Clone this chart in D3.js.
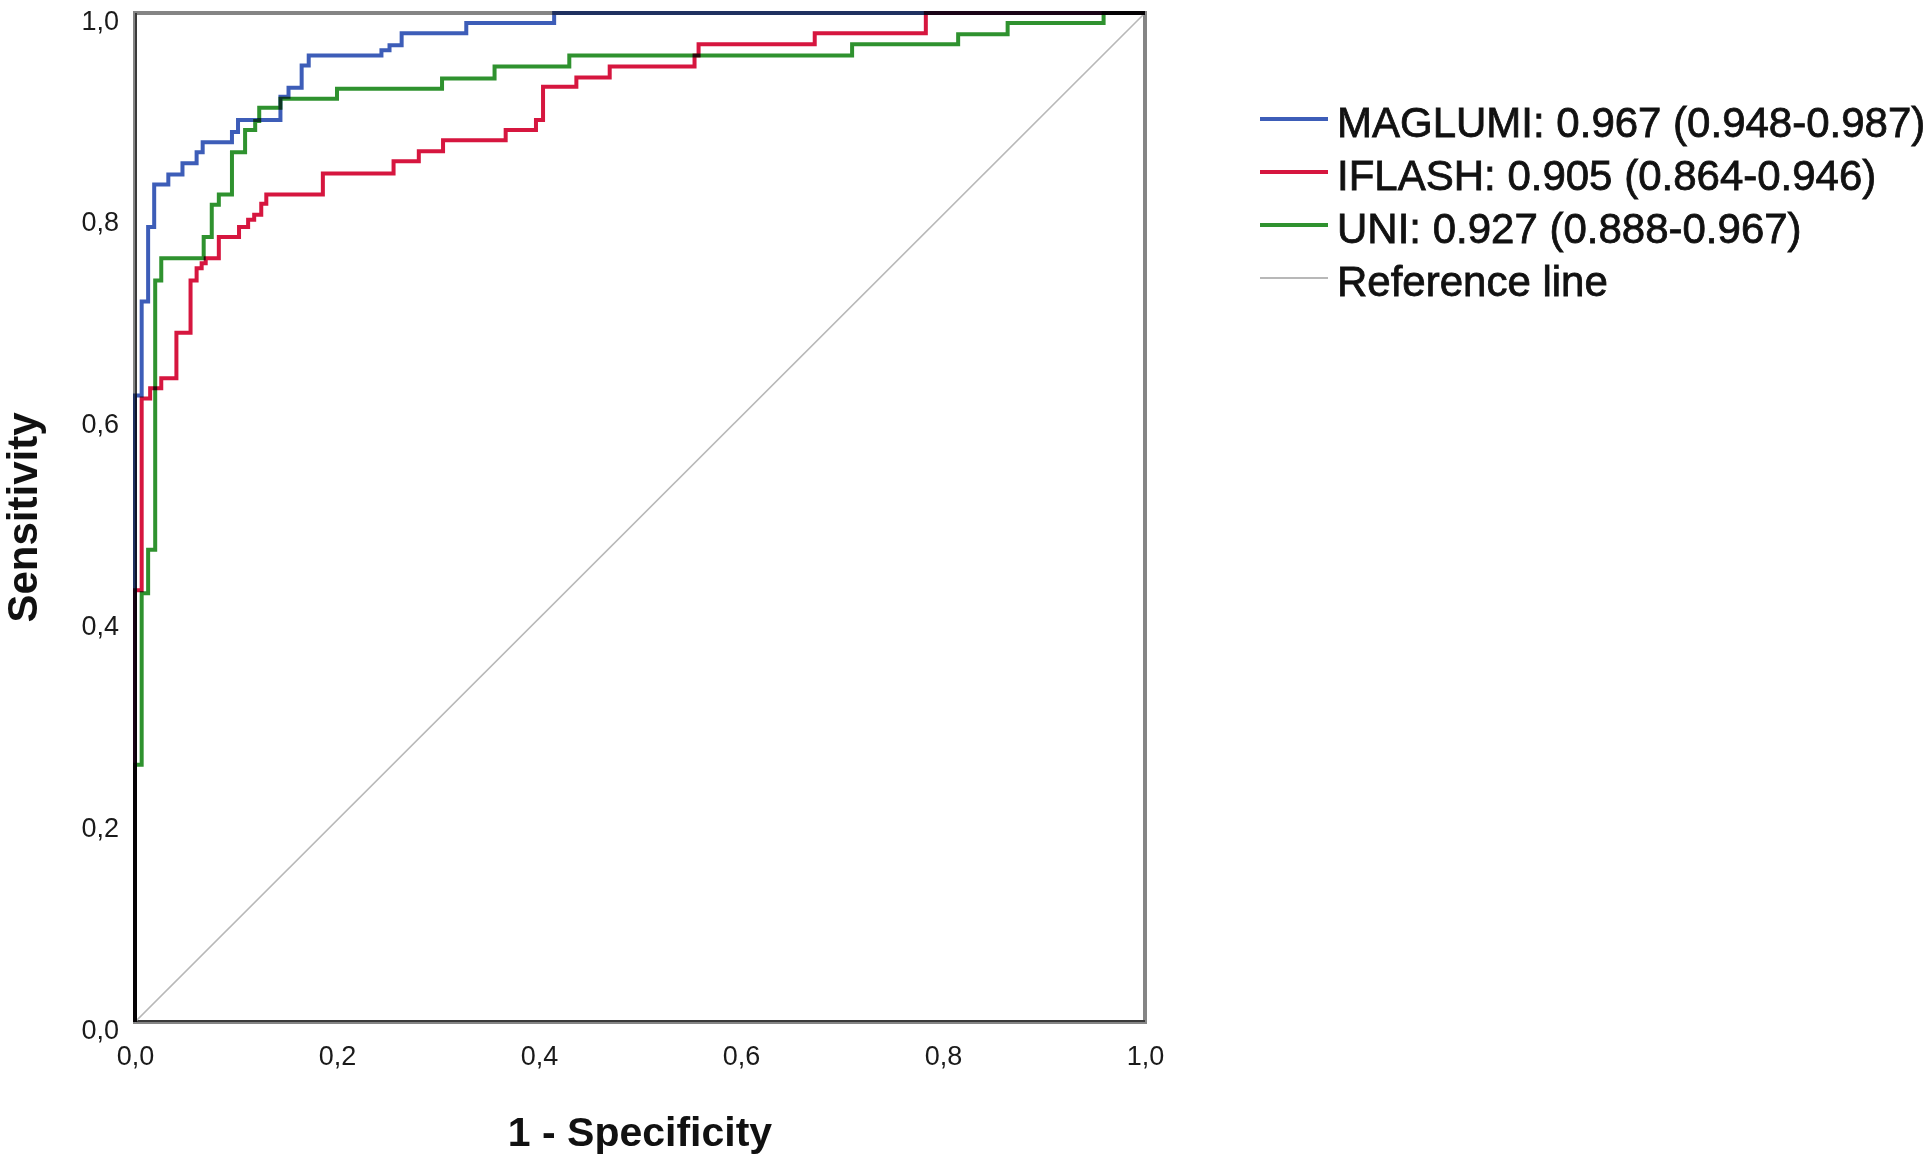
<!DOCTYPE html>
<html>
<head>
<meta charset="utf-8">
<script src="https://cdn.jsdelivr.net/npm/d3@7"></script>
<style>
  html, body { margin: 0; padding: 0; background: #fff; }
  svg { display: block; }
</style>
</head>
<body>
<svg id="chart" width="1932" height="1160"></svg>
<script>
// ---- Data ----
const tickValues = [0, 0.2, 0.4, 0.6, 0.8, 1.0];
const tickLabels = ["0,0", "0,2", "0,4", "0,6", "0,8", "1,0"];

const seriesNames = [
  "MAGLUMI: 0.967 (0.948-0.987)",
  "IFLASH: 0.905 (0.864-0.946)",
  "UNI: 0.927 (0.888-0.967)",
  "Reference line"
];
const seriesColors = ["#3d5db8", "#d6163f", "#2f922f", "#b8b8b8"];

// ROC step points: [1 - specificity, sensitivity] after each rise
const maglumi = [
  [0,0],[0,0.621],[0.0066,0.714],[0.013,0.788],[0.019,0.830],[0.033,0.840],
  [0.047,0.851],[0.061,0.862],[0.067,0.872],[0.096,0.882],[0.102,0.894],
  [0.144,0.917],[0.152,0.926],[0.165,0.948],[0.172,0.958],[0.244,0.963],
  [0.252,0.968],[0.264,0.980],[0.328,0.990],[0.415,1],[1,1]
];
const iflash = [
  [0,0],[0,0.428],[0.0066,0.618],[0.015,0.628],[0.026,0.638],[0.041,0.683],
  [0.055,0.735],[0.061,0.747],[0.066,0.752],[0.070,0.757],[0.083,0.778],
  [0.103,0.788],[0.112,0.795],[0.118,0.800],[0.125,0.811],[0.130,0.820],
  [0.186,0.841],[0.256,0.853],[0.281,0.863],[0.305,0.874],[0.367,0.884],
  [0.397,0.894],[0.404,0.927],[0.437,0.936],[0.470,0.947],[0.554,0.958],
  [0.558,0.969],[0.673,0.980],[0.783,1],[1,1]
];
const uni = [
  [0,0],[0,0.255],[0.0066,0.425],[0.013,0.468],[0.020,0.735],[0.026,0.757],
  [0.068,0.778],[0.076,0.810],[0.083,0.820],[0.096,0.862],[0.109,0.884],
  [0.119,0.893],[0.123,0.906],[0.144,0.915],[0.200,0.925],[0.304,0.935],
  [0.356,0.947],[0.430,0.958],[0.710,0.969],[0.815,0.979],[0.864,0.990],
  [0.959,1],[1,1]
];
const referenceLine = [[0,0],[1,1]];

// ---- Drawing ----
const svg = d3.select("#chart");
const x = d3.scaleLinear().domain([0, 1]).range([135, 1145]);
const y = d3.scaleLinear().domain([0, 1]).range([1022, 13]);
const font = "'Liberation Sans', Arial, Helvetica, sans-serif";

// plot frame
svg.append("rect")
  .attr("x", x(0)).attr("y", y(1))
  .attr("width", x(1) - x(0)).attr("height", y(0) - y(1))
  .attr("fill", "#fff").attr("stroke", "#858585").attr("stroke-width", 4);

// axes lines (darker left/bottom)
svg.append("line").attr("x1", x(0)).attr("x2", x(1)).attr("y1", y(0) - 1).attr("y2", y(0) - 1)
  .attr("stroke", "#3a3a3a").attr("stroke-width", 2);
svg.append("line").attr("x1", x(0) + 1).attr("x2", x(0) + 1).attr("y1", y(0)).attr("y2", y(1))
  .attr("stroke", "#3a3a3a").attr("stroke-width", 2);

// x axis
const xAxis = d3.axisBottom(x).tickValues(tickValues)
  .tickFormat((d, i) => tickLabels[i]).tickSize(0).tickPadding(0);
const gx = svg.append("g").attr("transform", `translate(0,${y(0)})`).call(xAxis);
gx.select(".domain").remove();
gx.selectAll("text").attr("y", 43).attr("dy", null)
  .attr("font-family", font).attr("font-size", 27).attr("fill", "#1a1a1a");

// y axis
const yAxis = d3.axisLeft(y).tickValues(tickValues)
  .tickFormat((d, i) => tickLabels[i]).tickSize(0).tickPadding(0);
const gy = svg.append("g").attr("transform", `translate(119,0)`).call(yAxis);
gy.select(".domain").remove();
gy.selectAll("text").attr("x", 0).attr("dy", 16)
  .attr("font-family", font).attr("font-size", 27).attr("fill", "#1a1a1a");

// reference diagonal
const line = d3.line().x(d => x(d[0])).y(d => y(d[1]));
svg.append("path").datum(referenceLine).attr("d", line)
  .attr("fill", "none").attr("stroke", seriesColors[3]).attr("stroke-width", 1.6);

// ROC curves
const stepLine = d3.line().x(d => x(d[0])).y(d => y(d[1])).curve(d3.curveStepAfter);
[maglumi, iflash, uni].forEach((data, i) => {
  svg.append("path").datum(data).attr("d", stepLine)
    .attr("fill", "none").attr("stroke", seriesColors[i]).attr("stroke-width", 4)
    .attr("stroke-linejoin", "miter")
    .style("mix-blend-mode", "multiply");
});

// axis titles
svg.append("text").attr("x", (x(0) + x(1)) / 2).attr("y", 1146)
  .attr("text-anchor", "middle").attr("font-family", font).attr("font-weight", "bold")
  .attr("font-size", 41).attr("fill", "#111").text("1 - Specificity");
svg.append("text").attr("transform", `translate(37,${(y(0) + y(1)) / 2}) rotate(-90)`)
  .attr("text-anchor", "middle").attr("font-family", font).attr("font-weight", "bold")
  .attr("font-size", 42).attr("fill", "#111").text("Sensitivity");

// legend
const legend = svg.append("g").attr("transform", "translate(1260,119)");
seriesNames.forEach((name, i) => {
  const g = legend.append("g").attr("transform", `translate(0,${i * 53})`);
  g.append("line").attr("x1", 0).attr("x2", 68).attr("y1", 0).attr("y2", 0)
    .attr("stroke", seriesColors[i]).attr("stroke-width", i < 3 ? 4 : 2);
  g.append("text").attr("x", 77).attr("y", 18)
    .attr("font-family", font).attr("font-size", 42).attr("fill", "#111")
    .attr("stroke", "#111").attr("stroke-width", 0.8).text(name);
});
</script>
</body>
</html>
